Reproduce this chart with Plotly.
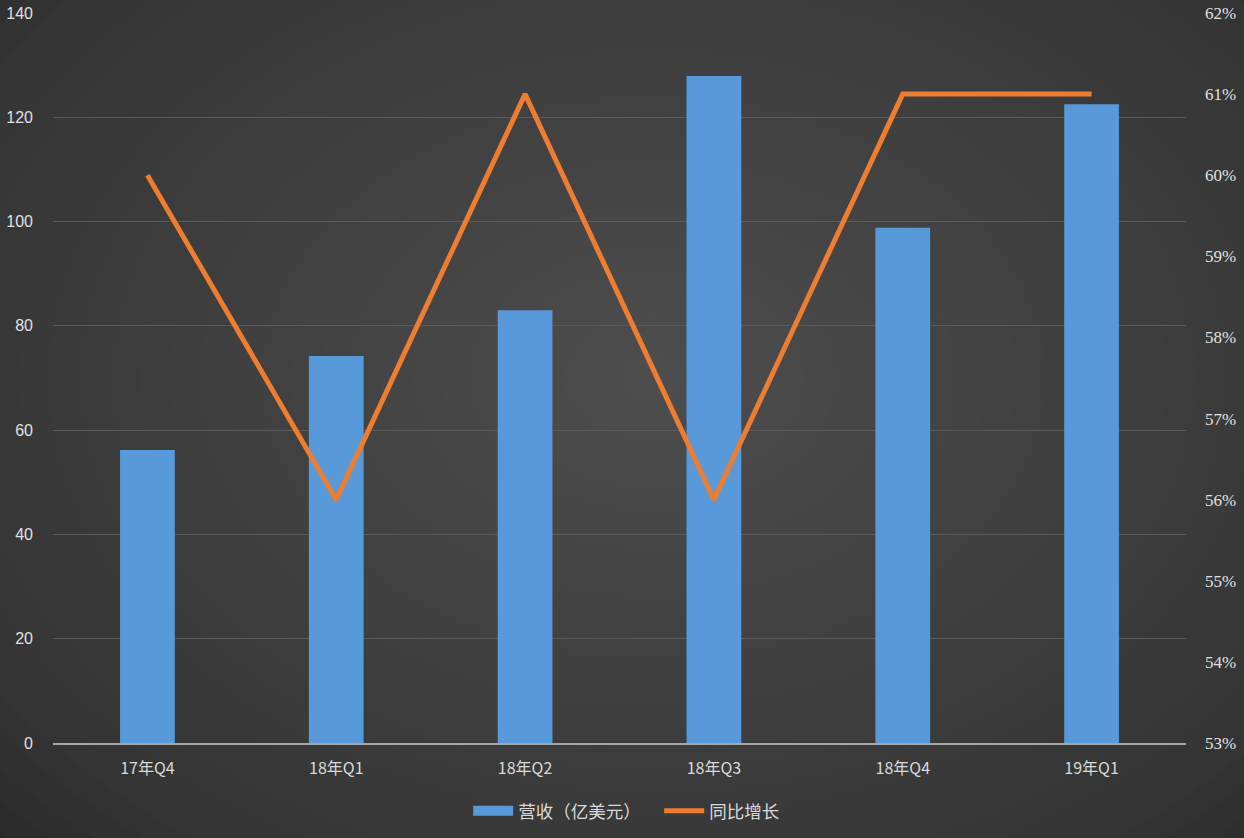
import plotly.graph_objects as go

quarters = ["17年Q4", "18年Q1", "18年Q2", "18年Q3", "18年Q4", "19年Q1"]
revenue = [56.2, 74.2, 83.0, 127.9, 98.8, 122.5]
yoy_growth = [0.60, 0.56, 0.61, 0.56, 0.61, 0.61]

left_ticks = [0, 20, 40, 60, 80, 100, 120, 140]
right_ticks = [0.53, 0.54, 0.55, 0.56, 0.57, 0.58, 0.59, 0.60, 0.61, 0.62]

bar_color = "#5899d9"

fig = go.Figure()

fig.add_trace(go.Bar(
    x=quarters,
    y=revenue,
    name="营收（亿美元）",
    marker=dict(color=bar_color, line=dict(width=0)),
    width=0.29,
    showlegend=False,
))

# legend entry only: wide rectangle like the original legend key
fig.add_trace(go.Scatter(
    x=[None], y=[None],
    name="营收（亿美元）",
    mode="lines",
    line=dict(color=bar_color, width=10),
))

fig.add_trace(go.Scatter(
    x=quarters,
    y=yoy_growth,
    name="同比增长",
    mode="lines",
    line=dict(color="#ed7d31", width=5),
    yaxis="y2",
))

# radial-ish background built from stacked translucent ellipses
shapes = []
n = 30
for i in range(n):
    r = 1.0 - i / n
    shapes.append(dict(
        type="circle", xref="paper", yref="paper", layer="below",
        x0=0.53 - 0.8 * r, x1=0.53 + 0.8 * r,
        y0=0.5 - 0.9 * r, y1=0.5 + 0.9 * r,
        fillcolor="rgba(140,140,140,0.02)", line=dict(width=0),
    ))

fig.update_layout(
    width=1244,
    height=838,
    margin=dict(l=53, r=58, t=13, b=95, autoexpand=False),
    paper_bgcolor="#2a2a2a",
    plot_bgcolor="rgba(0,0,0,0)",
    shapes=shapes,
    font=dict(family="Noto Sans CJK SC", color="#d9d9d9", size=15),
    showlegend=True,
    legend=dict(
        orientation="h", x=0.535, xanchor="center", y=-0.093, yanchor="middle",
        font=dict(size=17.5, color="#d9d9d9"), bgcolor="rgba(0,0,0,0)",
        itemwidth=40, traceorder="normal", entrywidth=136,
    ),
    xaxis=dict(
        showgrid=False, automargin=False,
        showline=True, linecolor="#a6a6a6", linewidth=2,
        ticks="", tickfont=dict(size=16, color="#d9d9d9"),
        ticklabelstandoff=10,
    ),
    yaxis=dict(
        range=[0, 140], tickvals=left_ticks, automargin=False,
        showgrid=True, gridcolor="#5a5a5a", gridwidth=1,
        zeroline=False, showline=False, ticks="",
        tickfont=dict(size=16, color="#e0e0e0", family="Liberation Sans"),
        ticklabelstandoff=19,
    ),
    yaxis2=dict(
        range=[0.53, 0.62], tickvals=right_ticks, tickformat=".0%",
        overlaying="y", side="right", automargin=False,
        showgrid=False, zeroline=False, showline=False, ticks="",
        tickfont=dict(size=17, color="#e0e0e0", family="Liberation Serif"),
        ticklabelstandoff=18,
    ),
)

fig.write_html("out.html", config={"displayModeBar": False},
               post_script="document.body.style.margin='0';")
